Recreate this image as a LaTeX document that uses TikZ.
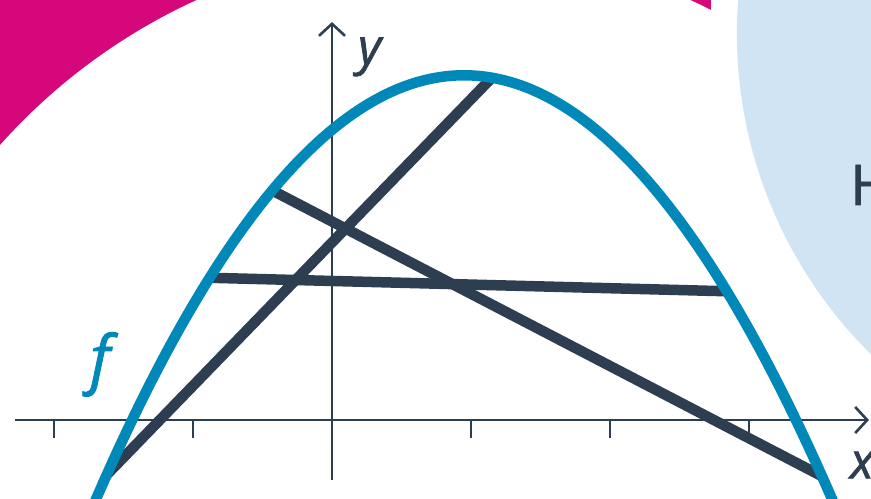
\documentclass[tikz,border=0pt]{standalone}
\usepackage{fontspec}
\setmainfont{Open Sans}
\newfontfamily\labelfont{Open Sans}[FakeBold=1.3]
\usetikzlibrary{arrows.meta}

\definecolor{navy}{HTML}{2D3E50}
\definecolor{curveblue}{HTML}{0088B9}
\definecolor{magentabg}{HTML}{D5077B}
\definecolor{paleblue}{HTML}{D1E4F3}

\begin{document}
\begin{tikzpicture}[
    x=139pt, y=139pt,
    declare function={f(\x)=2.48-0.435*(\x-0.95)^2;},
    axis/.style      = {draw=navy, line width=2.6pt},
    axisarrow/.style = {axis, -{Straight Barb[length=12pt,width=26pt]}},
    tick/.style      = {draw=navy, line width=2.6pt},
    chord/.style     = {draw=navy, line width=10.5pt},
    graph/.style     = {draw=curveblue, line width=10.5pt},
    axislabel/.style = {text=navy, font=\labelfont\fontsize{50}{50}\selectfont\itshape, inner sep=0pt},
    fnlabel/.style   = {text=curveblue, font=\labelfont\fontsize{64}{64}\selectfont\itshape, inner sep=0pt},
    bubbletext/.style= {text=navy, font=\labelfont\fontsize{56}{56}\selectfont, inner sep=0pt}
]

\useasboundingbox (-2.3885,-0.5612) rectangle (3.8777,3.0216);
\clip (-2.3885,-0.5612) rectangle (3.8777,3.0216);

% --- Background shapes ------------------------------------------------------
\fill[magentabg] (-2.3885,1.90) rectangle (2.727,3.0216);
\fill[white] (0.802,-0.871) circle[radius=4.277];
\fill[paleblue] (6.165,2.784) circle[radius=3.252];
\node[bubbletext, anchor=west] (head) at (3.727,1.691) {H};

% --- Axes -------------------------------------------------------------------
\coordinate (xstart) at (-2.28,0);
\coordinate (xend)   at (3.863,0);
\coordinate (ystart) at (0,-0.432);
\coordinate (yend)   at (0,2.863);
\draw[axisarrow] (xstart) -- (xend);
\draw[axisarrow] (ystart) -- (yend);
\foreach \t in {-2,-1,1,2,3}
  \draw[tick] (\t,0) -- (\t,-0.13);

\node[axislabel] (ylab) at (0.27,2.612) {y};
\node[axislabel] (xlab) at (3.813,-0.324) {x};

% --- Chords -----------------------------------------------------------------
\coordinate (a1) at (-1.62,{f(-1.62)});
\coordinate (a2) at (1.15,{f(1.15)});
\coordinate (b1) at (-0.88,{f(-0.88)});
\coordinate (b2) at (2.84,{f(2.84)});
\coordinate (c1) at (-0.43,{f(-0.43)});
\coordinate (c2) at (3.525,{f(3.525)});
\draw[chord] (a1) -- (a2);
\draw[chord] (b1) -- (b2);
\draw[chord] (c1) -- (c2);

% --- Graph of f -------------------------------------------------------------
\draw[graph] plot[domain=-1.75:3.65, samples=120, smooth] (\x,{f(\x)});
\node[fnlabel] (flab) at (-1.669,0.40) {f};

\end{tikzpicture}
\end{document}
